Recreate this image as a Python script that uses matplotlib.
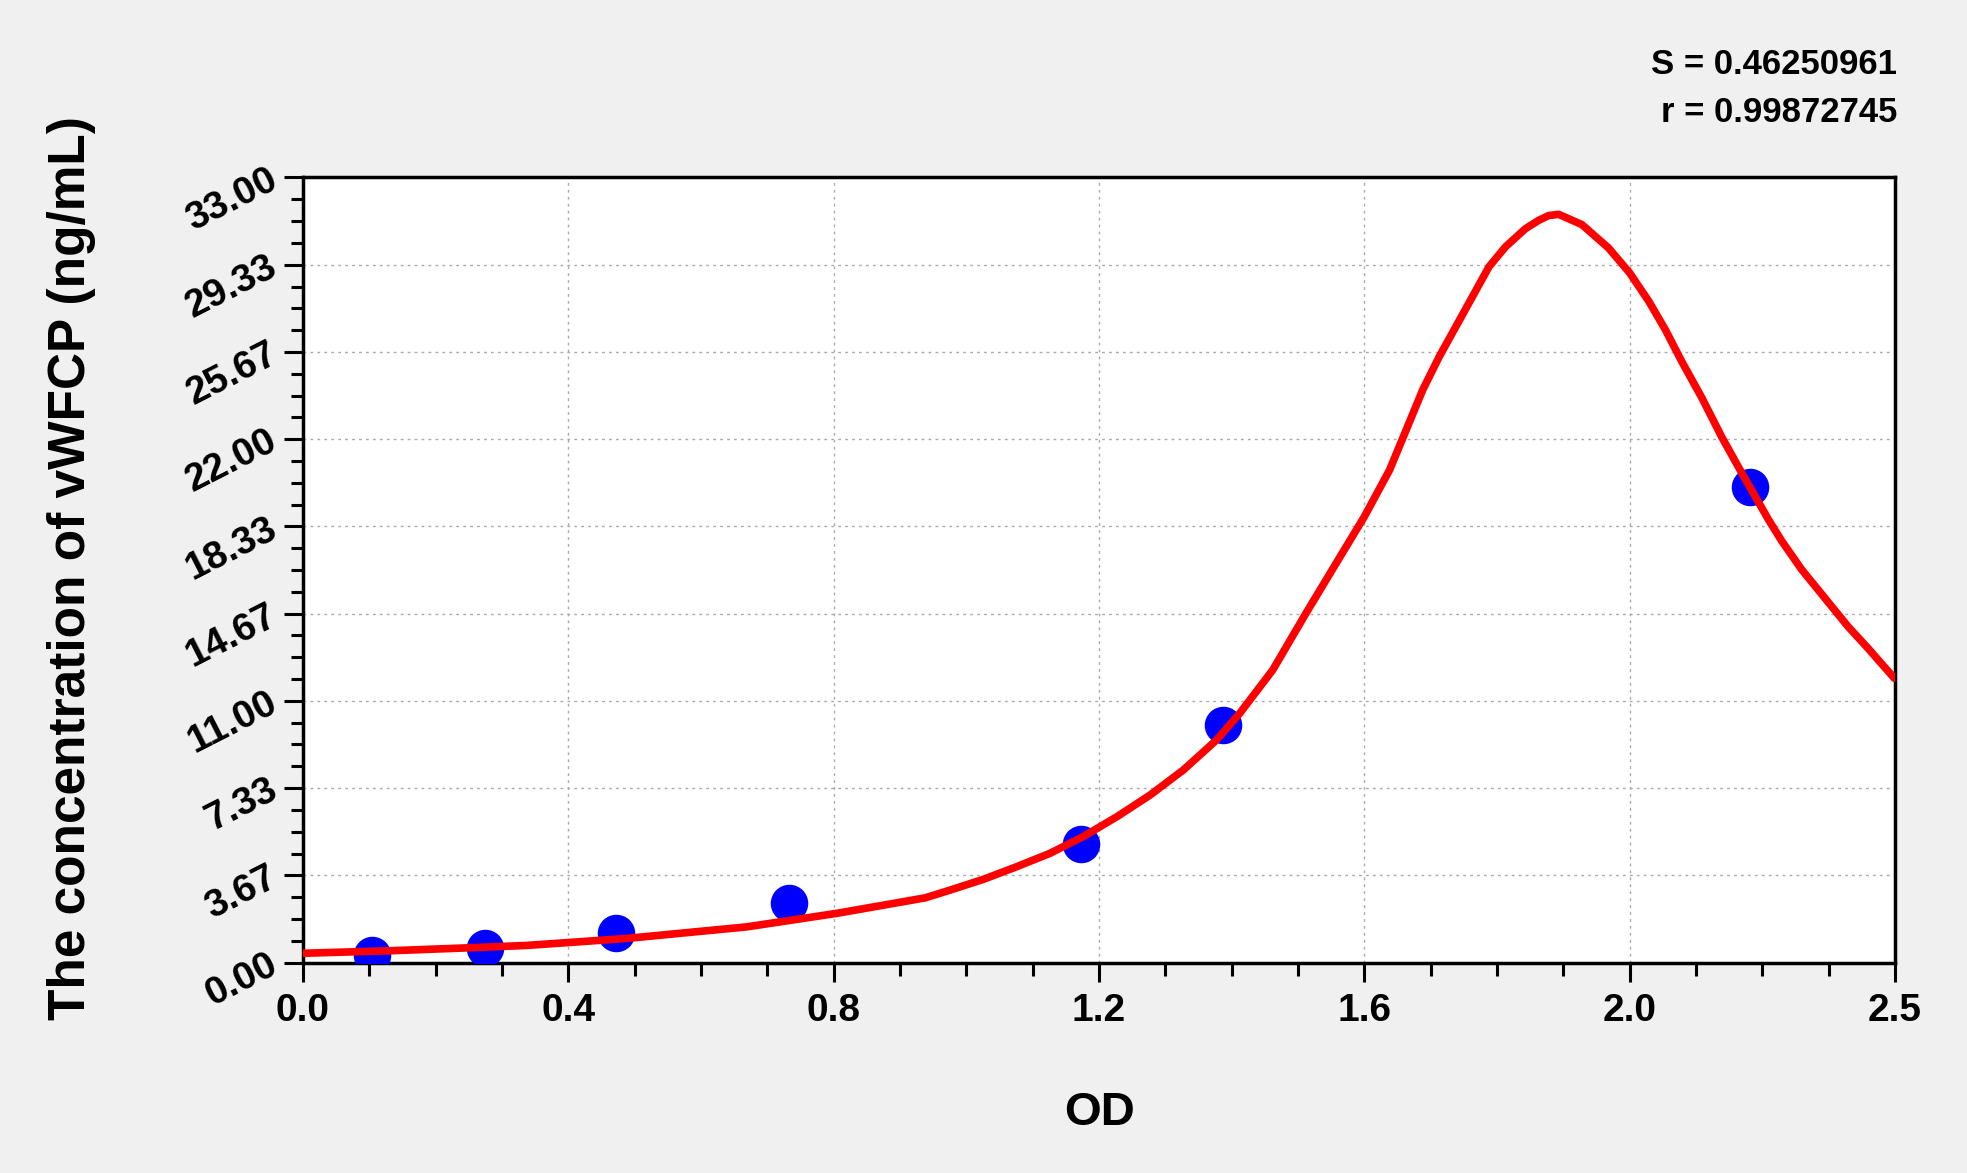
import matplotlib.pyplot as plt
from matplotlib.ticker import MultipleLocator

# standards (OD vs concentration)
od_points = [0.104, 0.275, 0.472, 0.732, 1.173, 1.387, 2.181]
conc_points = [0.3125, 0.625, 1.25, 2.5, 5.0, 10.0, 20.0]

# fitted curve
curve_od = [0.000, 0.135, 0.250, 0.337, 0.415, 0.490, 0.535, 0.669, 0.805, 0.938, 0.976,
            1.026, 1.076, 1.126, 1.176, 1.227, 1.277, 1.327, 1.377, 1.412, 1.462, 1.512,
            1.562, 1.600, 1.638, 1.663, 1.688, 1.713, 1.738, 1.763, 1.788, 1.813, 1.843,
            1.863, 1.878, 1.893, 1.928, 1.968, 2.000, 2.029, 2.054, 2.079, 2.109, 2.139,
            2.169, 2.209, 2.229, 2.259, 2.294, 2.329, 2.359, 2.399]
curve_conc = [0.39, 0.50, 0.62, 0.72, 0.87, 1.02, 1.14, 1.50, 2.07, 2.72, 3.05,
              3.50, 4.03, 4.59, 5.29, 6.13, 7.04, 8.09, 9.35, 10.47, 12.30, 14.68,
              16.99, 18.74, 20.70, 22.38, 24.07, 25.47, 26.73, 27.99, 29.25, 30.09, 30.85,
              31.20, 31.40, 31.45, 31.02, 30.04, 28.99, 27.79, 26.59, 25.24, 23.73, 22.08,
              20.58, 18.63, 17.73, 16.53, 15.33, 14.13, 13.22, 11.95]

x_ticks = [0.0, 0.4, 0.8, 1.2, 1.6, 2.0, 2.4]
x_labels = ['0.0', '0.4', '0.8', '1.2', '1.6', '2.0', '2.5']
y_ticks = [0.0, 3.6667, 7.3333, 11.0, 14.6667, 18.3333, 22.0, 25.6667, 29.3333, 33.0]
y_labels = ['0.00', '3.67', '7.33', '11.00', '14.67', '18.33', '22.00', '25.67', '29.33', '33.00']

plt.rcParams['font.family'] = ['Liberation Sans', 'DejaVu Sans']
plt.rcParams['font.weight'] = 'bold'

fig = plt.figure(figsize=(19.67, 11.73), dpi=100, facecolor='#f0f0f0')
ax = fig.add_axes([0.154, 0.1794, 0.8094, 0.6693])
ax.set_facecolor('white')

ax.plot(od_points, conc_points, 'o', color='#0000ff', markersize=26, zorder=3)
ax.plot(curve_od, curve_conc, color='#ff0000', linewidth=5.5, zorder=4,
        solid_joinstyle='round', solid_capstyle='round')

ax.set_xlim(0, 2.4)
ax.set_ylim(0, 33)
ax.set_xticks(x_ticks)
ax.set_xticklabels(x_labels)
ax.set_yticks(y_ticks)
ax.set_yticklabels(y_labels)
ax.xaxis.set_minor_locator(MultipleLocator(0.1))
ax.yaxis.set_minor_locator(MultipleLocator(33 / 36))

ax.tick_params(axis='both', which='major', length=14, width=2.2, labelsize=28, pad=8)
ax.tick_params(axis='both', which='minor', length=9, width=2.2)
ax.tick_params(axis='y', which='major', labelrotation=27, pad=6)
for lbl in ax.get_yticklabels():
    lbl.set_rotation_mode('anchor')
    lbl.set_ha('right')
    lbl.set_va('center')
for lbl in ax.get_xticklabels() + ax.get_yticklabels():
    lbl.set_fontweight('bold')

for s in ax.spines.values():
    s.set_linewidth(2.5)
    s.set_color('black')

ax.grid(True, which='major', color='#aaaaaa', linestyle=(0, (2, 3)), linewidth=1)

fig.text(1099 / 1967, 1 - 1113 / 1173, 'OD', fontsize=34, fontweight='bold',
         ha='center', va='center')
fig.text(72 / 1967, 1 - 568 / 1173, 'The concentration of vWFCP (ng/mL)', fontsize=37,
         fontweight='bold', rotation=90, ha='center', va='center')
fig.text(1897 / 1967, 1 - 65 / 1173, 'S = 0.46250961', fontsize=25, fontweight='bold',
         ha='right', va='center')
fig.text(1897 / 1967, 1 - 113 / 1173, 'r = 0.99872745', fontsize=25, fontweight='bold',
         ha='right', va='center')

plt.savefig('out.png', dpi=100, facecolor=fig.get_facecolor())
